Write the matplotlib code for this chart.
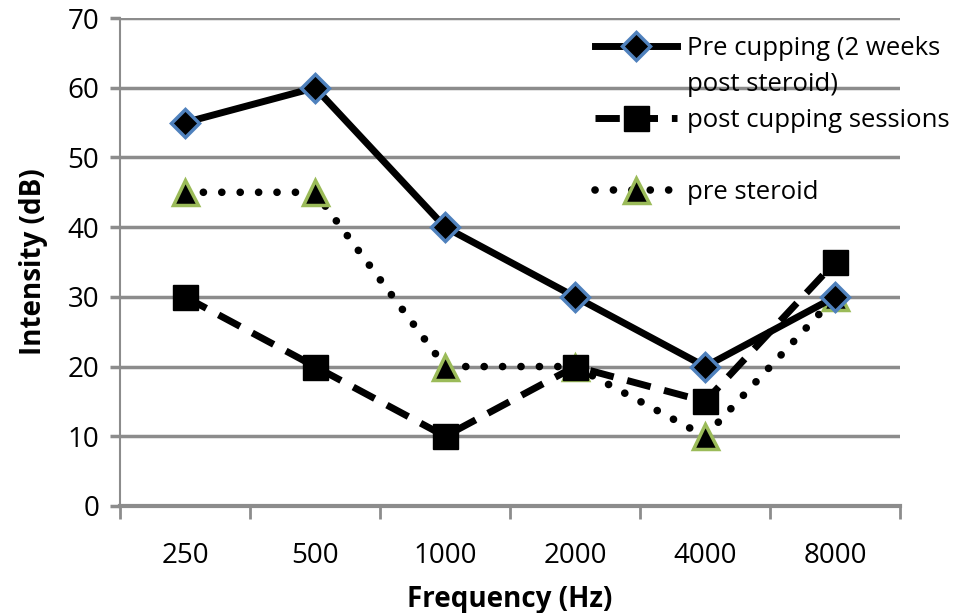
import matplotlib.pyplot as plt
from matplotlib.lines import Line2D

plt.rcParams['font.family'] = ['Open Sans', 'DejaVu Sans']

freqs = ["250", "500", "1000", "2000", "4000", "8000"]
pre_cupping = [55, 60, 40, 30, 20, 30]
post_cupping = [30, 20, 10, 20, 15, 35]
pre_steroid = [45, 45, 20, 20, 10, 30]

fig = plt.figure(figsize=(9.67, 6.13), dpi=100)
ax = fig.add_axes([0.124, 0.1746, 0.807, 0.796])

x = range(len(freqs))
grey = '#8c8c8c'

l_ster, = ax.plot(x, pre_steroid, color='black', lw=5.5, linestyle=(0, (0.01, 2.4)),
                  dash_capstyle='round', marker='^', markersize=18,
                  markerfacecolor='black', markeredgecolor='#9bbb59', markeredgewidth=2.5,
                  zorder=3)
l_post, = ax.plot(x, post_cupping, color='black', lw=5, linestyle=(0, (3.5, 2)),
                  marker='s', markersize=18, markerfacecolor='black',
                  markeredgecolor='black', zorder=4)
l_pre, = ax.plot(x, pre_cupping, color='black', lw=5, linestyle='-',
                 marker='D', markersize=14, markerfacecolor='black',
                 markeredgecolor='#4f81bd', markeredgewidth=2.5, zorder=5)

ax.set_xlim(-0.5, len(freqs) - 0.5)
ax.set_ylim(0, 70)
ax.set_yticks(range(0, 71, 10))
ax.yaxis.grid(True, color=grey, lw=2.5)
ax.set_axisbelow(True)

ax.set_xticks([i - 0.5 for i in range(len(freqs) + 1)])
ax.set_xticklabels([])
ax.set_xticks(list(x), minor=True)
ax.set_xticklabels(freqs, minor=True)
ax.tick_params(axis='x', which='major', direction='out', length=9, width=2, color=grey)
ax.tick_params(axis='x', which='minor', length=0, pad=26, labelsize=20)
ax.tick_params(axis='y', direction='out', length=7, width=2.5, color=grey,
               labelsize=20, pad=8)

for side in ['top', 'right']:
    ax.spines[side].set_visible(False)
ax.spines['left'].set_color(grey)
ax.spines['left'].set_linewidth(1.5)
ax.spines['bottom'].set_color(grey)
ax.spines['bottom'].set_linewidth(3)

ax.set_xlabel('Frequency (Hz)', fontsize=20, fontweight='bold', labelpad=11)
ax.set_ylabel('Intensity (dB)', fontsize=20, fontweight='bold', labelpad=14)

blank = Line2D([], [], linestyle='none')
ax.legend([l_pre, blank, l_post, blank, l_ster],
          ['Pre cupping (2 weeks', 'post steroid)', 'post cupping sessions', ' ', 'pre steroid'],
          loc='upper left', bbox_to_anchor=(0.595, 0.985), frameon=False,
          fontsize=18.5, handlelength=3.2, labelspacing=0.43, handletextpad=0.4,
          borderaxespad=0)

fig.savefig('out.png', dpi=100)
